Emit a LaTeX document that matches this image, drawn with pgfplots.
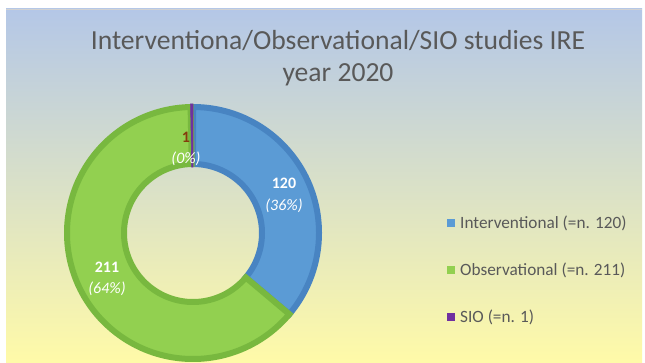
\documentclass[border=0pt]{standalone}
\usepackage{pgfplots}
\pgfplotsset{compat=1.18}
\usepackage{pgfplotstable}
\usepackage{fontspec}
\setmainfont{Carlito}
\definecolor{iblue}{HTML}{5B9BD5}
\definecolor{iblueb}{HTML}{4884C2}
\definecolor{ogreen}{HTML}{92D050}
\definecolor{ogreenb}{HTML}{78B83F}
\definecolor{siop}{HTML}{7030A0}
\definecolor{txt}{HTML}{595959}
\definecolor{bgtop}{HTML}{B4C7E7}
\definecolor{bgbot}{HTML}{FFFAA8}
\definecolor{lblone}{HTML}{843C0C}

\pgfplotstableread{
name value
Interventional 120
Observational 211
SIO 1
}\studies

\begin{document}
\begin{tikzpicture}
\pgfplotstablegetelem{0}{value}\of\studies \let\vA\pgfplotsretval
\pgfplotstablegetelem{1}{value}\of\studies \let\vB\pgfplotsretval
\pgfplotstablegetelem{2}{value}\of\studies \let\vC\pgfplotsretval
\pgfmathsetmacro\tot{\vA+\vB+\vC}
\pgfmathsetmacro\aA{90}
\pgfmathsetmacro\aB{90-\vA/\tot*360}
\pgfmathsetmacro\aC{\aB-\vB/\tot*360}
\pgfmathsetmacro\aD{\aC-\vC/\tot*360}
\def\cx{193}
\def\cy{129}
\newcommand\slice[6]{%
  \filldraw[fill=#5, draw=#6, line width=6bp, line join=miter]
   (axis cs:{\cx+#3*cos(#1)},{\cy+#3*sin(#1)})
   arc[start angle=#1, end angle=#2, radius=#3 bp]
   -- (axis cs:{\cx+#4*cos(#2)},{\cy+#4*sin(#2)})
   arc[start angle=#2, end angle=#1, radius=#4 bp] -- cycle;}
\begin{axis}[
  x=1bp, y=1bp, xmin=0, xmax=645, ymin=0, ymax=362,
  scale only axis, hide axis, clip=true,
  legend style={at={(axis cs:447,148)}, anchor=north west, draw=none, fill=none,
    font=\fontsize{17.3}{19}\selectfont\color{txt}, row sep=28.8bp,
    inner sep=0pt, /tikz/every odd column/.append style={column sep=0pt}},
  legend cell align=left,
]
\fill[white] (axis cs:0,0) rectangle (axis cs:645,362);
\fill[top color=bgtop, bottom color=bgbot] (axis cs:6,0) rectangle (axis cs:642,353);
\draw[gray!35, line width=0.8bp] (axis cs:6,353) -- (axis cs:642,353);
\slice{\aA}{\aB}{126}{69}{iblue}{iblueb}
\slice{\aB}{\aC}{126}{69}{ogreen}{ogreenb}
\filldraw[fill=siop, draw=siop, line width=0.6bp]
   (axis cs:{\cx+129*cos(\aC)},{\cy+129*sin(\aC)})
   arc[start angle=\aC, end angle=\aD, radius=129bp]
   -- (axis cs:{\cx+66*cos(\aD)},{\cy+66*sin(\aD)})
   arc[start angle=\aD, end angle=\aC, radius=66bp] -- cycle;
\node[txt, font=\fontsize{27.7}{30}\selectfont, anchor=base] at (axis cs:338,313) {Interventiona/Observational/SIO studies IRE};
\node[txt, font=\fontsize{27.7}{30}\selectfont, anchor=base] at (axis cs:338,281) {year 2020};
\node[white, font=\fontsize{16}{18}\selectfont\bfseries] at (axis cs:284,179) {\vA};
\node[white, font=\fontsize{16}{18}\selectfont\itshape] at (axis cs:284,156) {(36\%)};
\node[white, font=\fontsize{16}{18}\selectfont\bfseries] at (axis cs:107,95) {\vB};
\node[white, font=\fontsize{16}{18}\selectfont\itshape] at (axis cs:107,73) {(64\%)};
\node[lblone, font=\fontsize{16}{18}\selectfont\bfseries] at (axis cs:186,225) {\vC};
\node[white, font=\fontsize{16}{18}\selectfont\itshape] at (axis cs:186,203) {(0\%)};
\addlegendimage{fill=iblue, draw=none, legend image code/.code={\fill (0bp,-4bp) rectangle (8bp,4bp);}}
\addlegendentry{\hspace{3bp}Interventional (=n. 120)}
\addlegendimage{fill=ogreen, draw=none, legend image code/.code={\fill (0bp,-4bp) rectangle (8bp,4bp);}}
\addlegendentry{\hspace{3bp}Observational (=n. 211)}
\addlegendimage{fill=siop, draw=none, legend image code/.code={\fill (0bp,-4bp) rectangle (8bp,4bp);}}
\addlegendentry{\hspace{3bp}SIO (=n. 1)}
\end{axis}
\end{tikzpicture}
\end{document}
